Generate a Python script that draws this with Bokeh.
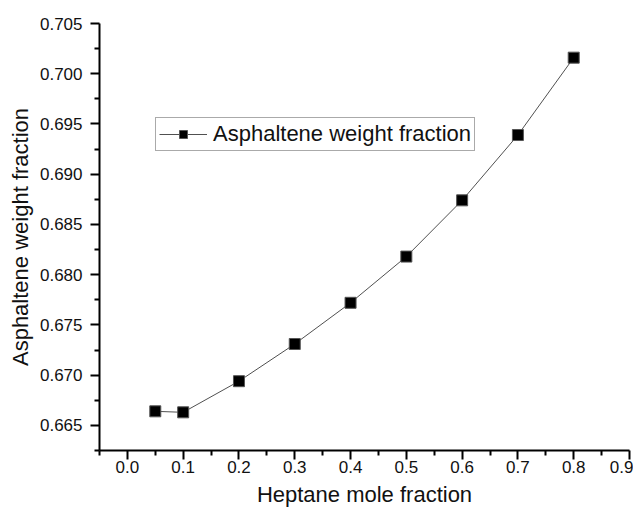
from bokeh.plotting import figure
from bokeh.models import FixedTicker, NumeralTickFormatter, Range1d, Legend, LegendItem
from bokeh.embed import file_html
from bokeh.resources import INLINE

heptane = [0.05, 0.1, 0.2, 0.3, 0.4, 0.5, 0.6, 0.7, 0.8]
asph = [0.6664, 0.6663, 0.6694, 0.6731, 0.6772, 0.6818, 0.6874, 0.6939, 0.7016]

x_major = [0.0, 0.1, 0.2, 0.3, 0.4, 0.5, 0.6, 0.7, 0.8, 0.9]
x_minor = [-0.05, 0.05, 0.15, 0.25, 0.35, 0.45, 0.55, 0.65, 0.75, 0.85]
y_major = [0.665, 0.670, 0.675, 0.680, 0.685, 0.690, 0.695, 0.700, 0.705]
y_minor = [0.6625, 0.6675, 0.6725, 0.6775, 0.6825, 0.6875, 0.6925, 0.6975, 0.7025]

FONT = "Liberation Sans"

p = figure(frame_width=530, frame_height=427,
           min_border_left=99, min_border_right=4, min_border_top=23, min_border_bottom=58,
           x_range=Range1d(-0.05, 0.9), y_range=Range1d(0.6625, 0.705),
           output_backend="svg", toolbar_location=None)
p.outline_line_color = None
p.grid.visible = False
p.background_fill_color = "white"

ln = p.line(heptane, asph, line_color="#505050", line_width=1)
sc = p.scatter(heptane, asph, marker="square", size=11, fill_color="black",
               line_color="#555555", line_width=1)

p.xaxis.ticker = FixedTicker(ticks=x_major, minor_ticks=x_minor)
p.yaxis.ticker = FixedTicker(ticks=y_major, minor_ticks=y_minor)
p.xaxis.formatter = NumeralTickFormatter(format="0.0")
p.yaxis.formatter = NumeralTickFormatter(format="0.000")

for ax in (p.xaxis[0], p.yaxis[0]):
    ax.axis_line_width = 2
    ax.axis_line_color = "black"
    ax.major_tick_line_width = 2
    ax.minor_tick_line_width = 2
    ax.major_tick_in = 0
    ax.major_tick_out = 9
    ax.minor_tick_in = 0
    ax.minor_tick_out = 5
    ax.major_label_text_font = FONT
    ax.major_label_text_font_size = "17px"
    ax.major_label_text_color = "#111111"
    ax.axis_label_text_font = FONT
    ax.axis_label_text_font_size = "22px"
    ax.axis_label_text_font_style = "normal"
    ax.axis_label_text_color = "#111111"

p.xaxis.axis_label = "Heptane mole fraction"
p.yaxis.axis_label = "Asphaltene weight fraction"
p.xaxis.major_label_standoff = 1
p.xaxis.axis_label_standoff = 6
p.yaxis.major_label_standoff = 8
p.yaxis.axis_label_standoff = 4

legend = Legend(items=[LegendItem(label="Asphaltene weight fraction", renderers=[ln, sc])],
                location=(56, 299), border_line_color="#555555", border_line_width=1,
                label_text_font=FONT, label_text_font_size="22px", label_text_color="#111111",
                glyph_width=48, glyph_height=20, label_height=20, padding=3, margin=0,
                label_standoff=6, background_fill_alpha=1)
p.add_layout(legend, "center")

open("out.html", "w").write(file_html(p, INLINE))
